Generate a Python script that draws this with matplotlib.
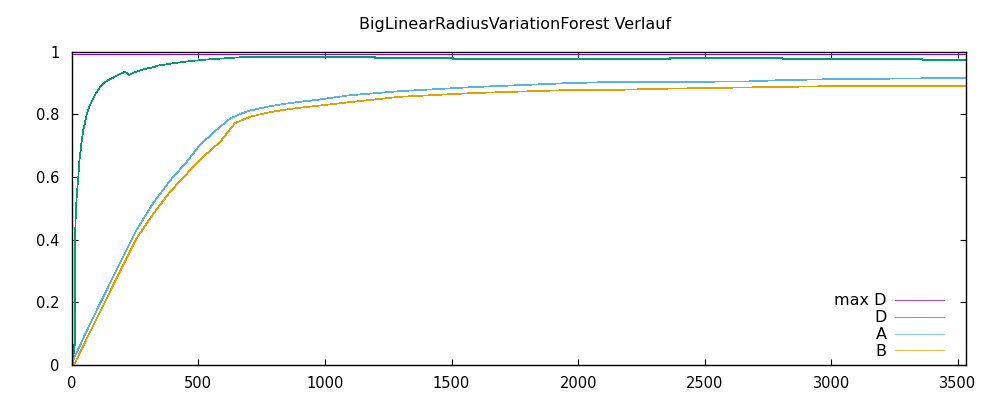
#!/usr/bin/env python3

import matplotlib

matplotlib.use("Agg")
import matplotlib.pyplot as plt


TITLE = "BigLinearRadiusVariationForest Verlauf"

X_MAX = 3533
X_TICKS = [0, 500, 1000, 1500, 2000, 2500, 3000, 3500]
Y_TICKS = [0, 0.2, 0.4, 0.6, 0.8, 1.0]
Y_TICK_LABELS = ["0", "0.2", "0.4", "0.6", "0.8", "1"]

MAX_D_X = [0, 3533]
MAX_D_Y = [0.992, 0.992]

# D: steep start, small dip near 220, then flat plateau with tiny steps
D_X = [0, 6, 9, 12, 13, 14, 17, 20, 26, 30, 39, 46, 59, 72, 92, 112, 131, 158,
       184, 208, 217, 227, 250, 270, 289, 326, 337, 400, 468, 550, 665,
       1198, 1198, 1506, 1506, 2363, 2363, 2807, 2807, 3360, 3360, 3533]
D_Y = [0.0, 0.0, 0.064, 0.064, 0.37, 0.43, 0.5, 0.54, 0.6, 0.648, 0.712, 0.75,
       0.798, 0.83, 0.862, 0.887, 0.903, 0.915, 0.926, 0.935, 0.933, 0.926,
       0.935, 0.94, 0.945, 0.951, 0.955, 0.963, 0.97, 0.976, 0.982,
       0.982, 0.979, 0.979, 0.976, 0.976, 0.979, 0.979, 0.976, 0.976, 0.973, 0.973]

A_X = [0, 6, 60, 125, 190, 257, 322, 388, 454, 507, 573, 625, 665, 704, 770, 835,
       900, 967, 1099, 1296, 1585, 1941, 2114, 2284, 2666, 2797, 2982, 3370, 3533]
A_Y = [0.0, 0.016, 0.11, 0.218, 0.325, 0.432, 0.517, 0.588, 0.648, 0.703, 0.751,
       0.786, 0.801, 0.812, 0.824, 0.833, 0.84, 0.846, 0.861, 0.874, 0.887, 0.899,
       0.903, 0.903, 0.905, 0.909, 0.912, 0.915, 0.915]

B_X = [8, 13, 60, 125, 190, 257, 320, 388, 454, 520, 586, 645, 704, 770, 835,
       900, 967, 1099, 1296, 1585, 1941, 2086, 2355, 2675, 3003, 3533]
B_Y = [0.0, 0.006, 0.085, 0.19, 0.298, 0.405, 0.48, 0.552, 0.61, 0.665, 0.712,
       0.772, 0.792, 0.805, 0.814, 0.821, 0.827, 0.839, 0.856, 0.868, 0.877,
       0.877, 0.882, 0.886, 0.89, 0.89]

COLORS = {"max D": "#9400d3", "D": "#009e73", "A": "#56b4e9", "B": "#e69f00"}


def main() -> None:
    plt.rcParams.update({"font.family": "DejaVu Sans", "font.size": 10.5})
    fig = plt.figure(figsize=(10, 4), dpi=100)
    ax = fig.add_axes([0.0717, 0.0875, 0.8946, 0.7833])

    style = dict(linewidth=0.5, antialiased=False)
    ax.plot(MAX_D_X, MAX_D_Y, color=COLORS["max D"], label="max D", **style)
    ax.plot(D_X, D_Y, color=COLORS["D"], label="D", **style)
    ax.plot(A_X, A_Y, color=COLORS["A"], label="A", **style)
    ax.plot(B_X, B_Y, color=COLORS["B"], label="B", **style)

    ax.set_xlim(0, X_MAX)
    ax.set_ylim(0, 1)
    ax.set_xticks(X_TICKS)
    ax.set_yticks(Y_TICKS)
    ax.set_yticklabels(Y_TICK_LABELS)
    ax.tick_params(direction="in", length=4, width=0.8, top=True, right=True,
                   labelsize=10.5, colors="black")
    ax.tick_params(axis="y", pad=9)
    ax.tick_params(axis="x", pad=8)
    for spine in ax.spines.values():
        spine.set_linewidth(1.0)

    ax.legend(
        loc="lower right",
        bbox_to_anchor=(0.952, 1 - 367 / 400),
        bbox_transform=fig.transFigure,
        frameon=False,
        markerfirst=False,
        borderpad=0,
        handlelength=3.05,
        handletextpad=0.55,
        labelspacing=0.12,
        fontsize=11.5,
    )

    fig.text(0.515, 1 - 25 / 400, TITLE, ha="center", va="center", fontsize=11.5)
    fig.savefig("out.png", dpi=100)


if __name__ == "__main__":
    main()
